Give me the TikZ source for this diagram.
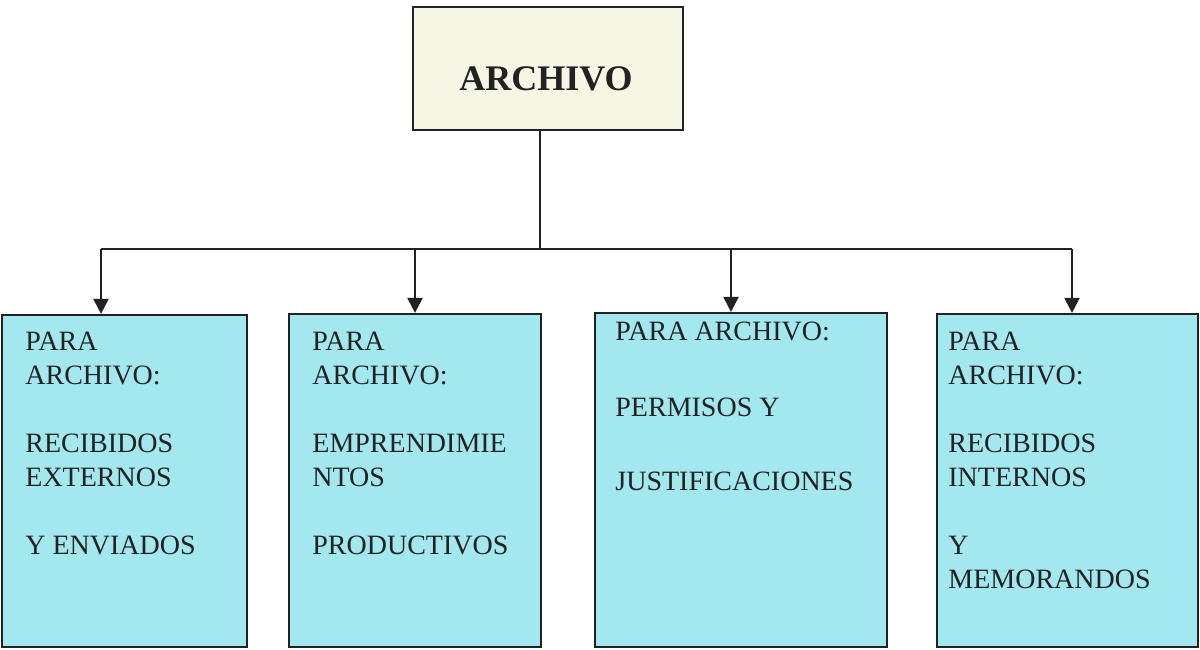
\documentclass[tikz,border=0pt]{standalone}
\usepackage{fontspec}
\setmainfont{Liberation Serif}
\usetikzlibrary{arrows.meta}
\definecolor{cream}{HTML}{F6F6E4}
\definecolor{cyanbox}{HTML}{A2E8EE}
\definecolor{ink}{HTML}{222222}
\tikzset{
  topbox/.style={draw=ink, line width=1.1pt, fill=cream, inner sep=0pt},
  lowbox/.style={draw=ink, line width=1.1pt, fill=cyanbox, inner sep=0pt},
  lowtext/.style={anchor=north west, inner sep=0pt, align=left, text=ink,
    font=\fontsize{14}{17}\selectfont},
  conn/.style={draw=ink, line width=1.1pt},
  arr/.style={conn, -{Triangle[width=7.5pt,length=7.5pt]}}
}
\begin{document}
\begin{tikzpicture}[x=0.5pt,y=-0.5pt]
\useasboundingbox (0,0) rectangle (1200,649);
% top box
\node[topbox, minimum width=135pt, minimum height=61.5pt] (top) at (548,68.5) {};
\node[text=ink, font=\fontsize{18}{21}\bfseries\selectfont, inner sep=0pt] (toptext) at (546,79) {ARCHIVO};
% lower boxes
\node[lowbox, minimum width=122.5pt, minimum height=166pt] (b1) at (124.5,481) {};
\node[lowbox, minimum width=126pt, minimum height=166.5pt] (b2) at (415,480.5) {};
\node[lowbox, minimum width=146pt, minimum height=167pt] (b3) at (741,480) {};
\node[lowbox, minimum width=130.5pt, minimum height=166.5pt] (b4) at (1067.5,480.5) {};
% texts
\node[lowtext] (t1) at (25,331.5) {PARA\\ARCHIVO:\\[17pt]RECIBIDOS\\EXTERNOS\\[17pt]Y ENVIADOS};
\node[lowtext] (t2) at (312,331.5) {PARA\\ARCHIVO:\\[17pt]EMPRENDIMIE\\NTOS\\[17pt]PRODUCTIVOS};
\node[lowtext] (t3) at (615,321.5) {PARA ARCHIVO:\\[21pt]PERMISOS Y\\[20pt]JUSTIFICACIONES};
\node[lowtext] (t4) at (948,331.5) {PARA\\ARCHIVO:\\[17pt]RECIBIDOS\\INTERNOS\\[17pt]Y\\MEMORANDOS};
% connectors
\coordinate (v) at (540,249);
\coordinate (h1) at (101,249);
\coordinate (h2) at (415,249);
\coordinate (h3) at (731,249);
\coordinate (h4) at (1072,249);
\draw[conn] (v |- top.south) -- (v);
\draw[conn] (h1) -- (h4);
\draw[arr] (h1) -- (h1 |- b1.north);
\draw[arr] (h2) -- (h2 |- b2.north);
\draw[arr] (h3) -- (h3 |- b3.north);
\draw[arr] (h4) -- (h4 |- b4.north);
\end{tikzpicture}
\end{document}
